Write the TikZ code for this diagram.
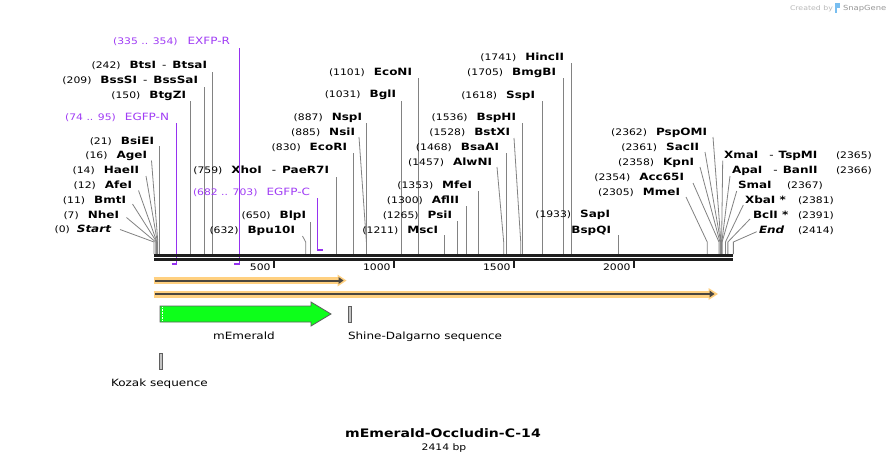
\documentclass[tikz,border=0pt]{standalone}
\usepackage{fontspec}
\setmainfont[FakeStretch=1.2]{DejaVu Sans}
\definecolor{cutgray}{RGB}{130,130,130}
\definecolor{prim}{RGB}{160,60,245}
\definecolor{primline}{RGB}{150,50,240}
\definecolor{axisc}{RGB}{30,30,30}
\definecolor{glow}{RGB}{255,208,128}
\definecolor{core}{RGB}{75,70,62}
\definecolor{emer}{RGB}{13,255,26}
\definecolor{featgray}{RGB}{95,95,95}
\definecolor{featfill}{RGB}{195,195,195}
\definecolor{credit}{RGB}{185,185,185}
\definecolor{sgblue}{RGB}{120,190,240}
\newcommand\cnum[1]{{\fontsize{9}{11}\selectfont #1}}
\newcommand\cname[1]{{\fontsize{10}{12}\selectfont\bfseries #1}}
\newcommand\cgap{\hspace{9pt}}
\newcommand\cdsh{\hspace{6pt}{\fontsize{10}{12}\selectfont -}\hspace{6pt}}
\newcommand\cdshR{\hspace{11pt}{\fontsize{10}{12}\selectfont -}\hspace{5pt}}
% vertical cut: id, label, xe, y, bp, topy
\newcommand\cutV[6]{%
  \node[lbl,anchor=base east] (n#1) at (#3,#4+3.65) {#2};
  \coordinate (t#1) at ({154+0.24*#5},#6);
  \coordinate (a#1) at ({154+0.24*#5},254);
  \draw[cutline] (t#1) -- (a#1);}
% slanted cut: id, label, xe, y, bp, topx, topy
\newcommand\cutS[7]{%
  \node[lbl,anchor=base east] (n#1) at (#3,#4+3.65) {#2};
  \coordinate (t#1) at (#6,#7);
  \coordinate (k#1) at ({154+0.24*#5},242);
  \coordinate (a#1) at ({154+0.24*#5},254);
  \draw[cutline] (t#1) -- (k#1) -- (a#1);}
% right side cut: id, name, xs, y, numx, bp, topx, topy
\newcommand\cutR[8]{%
  \node[lbl,anchor=base west] (n#1) at (#3,#4+3.65) {#2};
  \node[lbl,anchor=base west] (m#1) at (#5,#4+3.65) {\cnum{(#6)}};
  \coordinate (t#1) at (#7,#8);
  \coordinate (k#1) at ({154+0.24*#6},242);
  \coordinate (a#1) at ({154+0.24*#6},254);
  \draw[cutline] (t#1) -- (k#1) -- (a#1);}
\begin{document}
\begin{tikzpicture}[x=1pt,y=-1pt,
  lbl/.style={inner sep=0pt,outer sep=0pt},
  cutline/.style={draw=cutgray,line width=0.8pt},
  primln/.style={draw=primline,line width=0.85pt},
  primmark/.style={draw=primline,line width=2pt},
  tickmark/.style={draw=axisc,line width=2pt},
  axisline/.style={draw=axisc,line width=2.5pt},
  featlbl/.style={lbl,font=\fontsize{10}{12}\selectfont}]
\useasboundingbox[fill=white] (0,0) rectangle (887,464);

% ---- credit
\node[lbl,anchor=base west,text=credit,font=\fontsize{6.5}{8}\selectfont] (cr1) at (790,10) {Created by};
\fill[sgblue] (834.5,2.5) rectangle (837,13);
\fill[sgblue] (837,2.5) rectangle (840,8);
\node[lbl,anchor=base west,text={rgb,255:red,150;green,150;blue,150},font=\fontsize{7}{8}\selectfont] (cr2) at (843,10) {SnapGene};

% ---- left cluster
\cutS{start}{\cnum{(0)}\hspace{7pt}\cname{\itshape Start}}{111}{229}{0}{120}{229.5}
\cutS{nhe}{\cnum{(7)}\cgap\cname{NheI}}{119}{215}{7}{126.5}{217.5}
\cutS{bmt}{\cnum{(11)}\cgap\cname{BmtI}}{126}{200}{11}{132.5}{204}
\cutS{afe}{\cnum{(12)}\cgap\cname{AfeI}}{132}{185}{12}{138.5}{190.5}
\cutS{hae}{\cnum{(14)}\cgap\cname{HaeII}}{139}{170}{14}{146}{176}
\cutS{age}{\cnum{(16)}\cgap\cname{AgeI}}{147}{155}{16}{151.5}{160.5}
\cutV{bsie}{\cnum{(21)}\cgap\cname{BsiEI}}{154}{140.5}{21}{146}
\cutV{btgz}{\cnum{(150)}\cgap\cname{BtgZI}}{186}{95}{150}{101}
\cutV{bsss}{\cnum{(209)}\cgap\cname{BssSI}\cdsh\cname{BssSaI}}{198}{80}{209}{87}
\cutV{bts}{\cnum{(242)}\cgap\cname{BtsI}\cdsh\cname{BtsaI}}{207}{65}{242}{72}

% ---- middle
\cutS{bpu}{\cnum{(632)}\cgap\cname{Bpu10I}}{295}{230}{632}{302.5}{236}
\cutV{blp}{\cnum{(650)}\cgap\cname{BlpI}}{306}{215}{650}{222}
\cutV{xho}{\cnum{(759)}\cgap\cname{XhoI}\hspace{10pt}{\fontsize{10}{12}\selectfont -}\hspace{6pt}\cname{PaeR7I}}{329}{170}{759}{177}
\cutV{ecor}{\cnum{(830)}\cgap\cname{EcoRI}}{347}{146.7}{830}{153}
\cutS{nsi}{\cnum{(885)}\cgap\cname{NsiI}}{355}{131.7}{885}{359}{137}
\cutV{nsp}{\cnum{(887)}\cgap\cname{NspI}}{362}{116.7}{887}{123}
\cutV{bgl}{\cnum{(1031)}\cgap\cname{BglI}}{396}{94.3}{1031}{101}
\cutV{econ}{\cnum{(1101)}\cgap\cname{EcoNI}}{412}{72.3}{1101}{78}
\cutV{msc}{\cnum{(1211)}\cgap\cname{MscI}}{438}{230}{1211}{235}
\cutV{psi}{\cnum{(1265)}\cgap\cname{PsiI}}{452}{215}{1265}{221}
\cutV{afl}{\cnum{(1300)}\cgap\cname{AflII}}{459}{200}{1300}{206}
\cutV{mfe}{\cnum{(1353)}\cgap\cname{MfeI}}{472}{185}{1353}{191}
\cutS{alw}{\cnum{(1457)}\cgap\cname{AlwNI}}{492}{161.7}{1457}{497}{167}
\cutV{bsaa}{\cnum{(1468)}\cgap\cname{BsaAI}}{499}{146.7}{1468}{153}
\cutS{bstx}{\cnum{(1528)}\cgap\cname{BstXI}}{510}{131.7}{1528}{514}{138}
\cutV{bsph}{\cnum{(1536)}\cgap\cname{BspHI}}{516}{116.7}{1536}{123}
\cutV{ssp}{\cnum{(1618)}\cgap\cname{SspI}}{535}{95}{1618}{101}
\cutV{bmgb}{\cnum{(1705)}\cgap\cname{BmgBI}}{556}{72.3}{1705}{78}
\cutV{hinc}{\cnum{(1741)}\cgap\cname{HincII}}{564}{56.7}{1741}{63}
\node[lbl,anchor=base east] (nsap) at (610,214.3+3.65) {\cnum{(1933)}\cgap\cname{SapI}};
\cutV{bspq}{\cname{BspQI}}{611}{230}{1933}{235}

% ---- right cluster, left labels
\cutS{mme}{\cnum{(2305)}\cgap\cname{MmeI}}{680}{191.7}{2305}{686}{197}
\cutS{acc}{\cnum{(2354)}\cgap\cname{Acc65I}}{684}{176.7}{2354}{693}{183}
\cutS{kpn}{\cnum{(2358)}\cgap\cname{KpnI}}{694}{161.7}{2358}{700}{167}
\cutS{sac}{\cnum{(2361)}\cgap\cname{SacII}}{699}{146.7}{2361}{705}{152}
\cutS{psp}{\cnum{(2362)}\cgap\cname{PspOMI}}{707}{131.7}{2362}{713}{137}

% ---- right cluster, right labels
\cutR{xma}{\cname{XmaI}\cdshR\cname{TspMI}}{724}{155}{836}{2365}{722.7}{160.7}
\cutR{apa}{\cname{ApaI}\cdshR\cname{BanII}}{732}{170}{836}{2366}{730}{176}
\cutR{sma}{\cname{SmaI}}{738}{185}{787}{2367}{736.7}{191}
\cutR{xba}{\cname{XbaI *}}{745}{200}{798}{2381}{743.3}{205}
\cutR{bcl}{\cname{BclI *}}{753}{215}{798}{2391}{750}{219}
\cutR{end}{\cname{\itshape End}}{759}{230}{798}{2414}{756.7}{231.7}

% ---- primers
\node[lbl,anchor=base east,text=prim] (pexfp) at (230,41+3.65) {\cnum{(335 .. 354)}\hspace{10pt}{\fontsize{10}{12}\selectfont EXFP-R}};
\coordinate (pexfpt) at (239,48);
\coordinate (pexfpb) at (239,264.7);
\draw[primln] (pexfpt) -- (pexfpb);
\coordinate (pexfpm1) at (234.4,263.7);
\coordinate (pexfpm2) at (239.4,263.7);
\draw[primmark] (pexfpm1) -- (pexfpm2);

\node[lbl,anchor=base east,text=prim] (pegfpn) at (169,116.7+3.65) {\cnum{(74 .. 95)}\hspace{9pt}{\fontsize{10}{12}\selectfont EGFP-N}};
\coordinate (pegfpnt) at (176.8,123);
\coordinate (pegfpnb) at (176.8,264.7);
\draw[primln] (pegfpnt) -- (pegfpnb);
\coordinate (pegfpnm1) at (171.8,263.7);
\coordinate (pegfpnm2) at (177.2,263.7);
\draw[primmark] (pegfpnm1) -- (pegfpnm2);

\node[lbl,anchor=base east,text=prim] (pegfpc) at (310,191.7+3.65) {\cnum{(682 .. 703)}\hspace{9pt}{\fontsize{10}{12}\selectfont EGFP-C}};
\coordinate (pegfpct) at (317.5,198);
\coordinate (pegfpcb) at (317.5,251.3);
\draw[primln] (pegfpct) -- (pegfpcb);
\coordinate (pegfpcm1) at (317.1,250.3);
\coordinate (pegfpcm2) at (322.7,250.3);
\draw[primmark] (pegfpcm1) -- (pegfpcm2);

% ---- axis
\coordinate (axL1) at (154,255.3);
\coordinate (axR1) at (733.4,255.3);
\coordinate (axL2) at (154,259.5);
\coordinate (axR2) at (733.4,259.5);
\draw[axisline] (axL1) -- (axR1);
\draw[axisline] (axL2) -- (axR2);
\foreach \tx/\tl in {274/500,394/1000,514/1500,634/2000}{
  \draw[tickmark] (\tx,260) -- (\tx,267.5);
  \node[lbl,anchor=base east] (tick\tl) at (\tx-3.5,270.5) {\cnum{\tl}};
}

% ---- orange arrows
\coordinate (o1a) at (153.5,280.5);
\coordinate (o1b) at (339,280.5);
\draw[glow,line width=7pt] (o1a) -- (o1b);
\fill[glow] (337.5,274.5) -- (346.5,280.5) -- (337.5,286.5) -- cycle;
\draw[core,line width=2pt] (155,280.5) -- (340,280.5);
\fill[core] (338.5,277) -- (343.5,280.5) -- (338.5,284) -- cycle;

\coordinate (o2a) at (153.5,294);
\coordinate (o2b) at (710,294);
\draw[glow,line width=7pt] (o2a) -- (o2b);
\fill[glow] (708.5,288) -- (718,294) -- (708.5,300) -- cycle;
\draw[core,line width=2pt] (155,294) -- (711,294);
\fill[core] (709.5,290.5) -- (714.5,294) -- (709.5,297.5) -- cycle;

% ---- features
\draw[draw=featgray,fill=emer,line width=0.8pt] (160,306) -- (311,306) -- (311,302) -- (331,314) -- (311,326) -- (311,322) -- (160,322) -- cycle;
\draw[white,line width=0.8pt,dash pattern=on 0.8pt off 0.8pt] (162,307) -- (162,321);
\node[featlbl,anchor=base] (lemer) at (244,339) {mEmerald};
\draw[draw=featgray,fill=featfill,line width=0.7pt] (348.3,306) rectangle (351.3,322);
\node[featlbl,anchor=base west] (lsd) at (348,339) {Shine-Dalgarno sequence};
\draw[draw=featgray,fill=featfill,line width=0.7pt] (159.3,353) rectangle (162.3,369);
\node[featlbl,anchor=base west] (lkoz) at (111,386) {Kozak sequence};

% ---- title
\node[lbl,anchor=base,font=\fontsize{11.7}{14}\selectfont\bfseries] (title) at (443,437.5) {mEmerald-Occludin-C-14};
\node[lbl,anchor=base] (bp) at (444,450.5) {\cnum{2414 bp}};
\end{tikzpicture}
\end{document}
